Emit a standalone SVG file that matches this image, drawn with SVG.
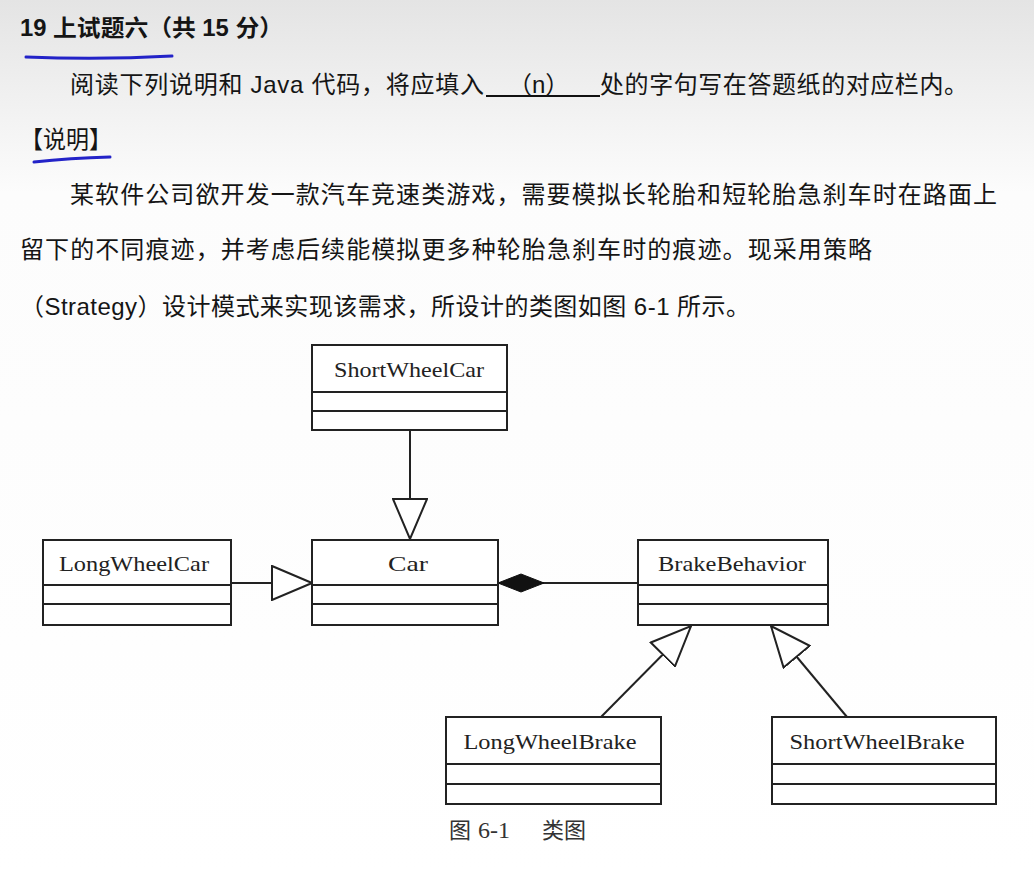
<svg xmlns="http://www.w3.org/2000/svg" width="1034" height="874" viewBox="0 0 1034 874">
  <defs>
    <linearGradient id="bg" x1="0" y1="0" x2="0" y2="1">
      <stop offset="0" stop-color="#e4e4e4"/>
      <stop offset="0.1" stop-color="#efefef"/>
      <stop offset="0.22" stop-color="#fcfcfc"/>
      <stop offset="1" stop-color="#ffffff"/>
    </linearGradient>
    <marker id="tri" viewBox="0 0 42 36" refX="41" refY="18" markerWidth="42" markerHeight="36" markerUnits="userSpaceOnUse" orient="auto">
      <path d="M1,1 L41,18 L1,35 Z" fill="#fff" stroke="#222" stroke-width="2" stroke-linejoin="miter"/>
    </marker>
    <marker id="dia" viewBox="0 0 48 20" refX="1" refY="10" markerWidth="48" markerHeight="20" markerUnits="userSpaceOnUse" orient="auto">
      <path d="M1,10 L24,1 L47,10 L24,19 Z" fill="#111" stroke="#111" stroke-width="1"/>
    </marker>
  </defs>
  <style>
    .cn { font-family: "Liberation Sans", "Noto Sans CJK SC", sans-serif; font-size: 24px; fill: #151515; }
    .title { font-weight: bold; font-size: 23px; }
    .box { fill: #fff; stroke: #222; stroke-width: 2; }
    .div { stroke: #222; stroke-width: 2; }
    .lbl { font-family: "Liberation Serif", "Noto Sans CJK SC", serif; font-size: 22px; fill: #222; text-anchor: middle; }
    .cap { font-family: "Liberation Serif", "Noto Sans CJK SC", serif; font-size: 22px; fill: #333; }
    .conn { stroke: #222; stroke-width: 2; fill: none; }
    .pen { stroke: #2323c8; stroke-width: 3; fill: none; stroke-linecap: round; }
  </style>
  <rect x="0" y="0" width="1034" height="874" fill="url(#bg)"/>

  <g id="text">
    <text class="cn title" x="20" y="36" textLength="263" lengthAdjust="spacingAndGlyphs">19 上试题六（共 15 分）</text>
    <path class="pen" d="M26,57 Q100,60 172,56"/>
    <text class="cn" x="70" y="93" textLength="414" lengthAdjust="spacing">阅读下列说明和 Java 代码，将应填入</text>
    <line x1="486" y1="96" x2="600" y2="96" stroke="#111" stroke-width="2"/>
    <text class="cn" x="508" y="93">（n）</text>
    <text class="cn" x="600" y="93" textLength="368" lengthAdjust="spacing">处的字句写在答题纸的对应栏内。</text>
    <text class="cn" x="20" y="148" textLength="92" lengthAdjust="spacingAndGlyphs">【说明】</text>
    <path class="pen" d="M34,162 Q70,158 110,157"/>
    <text class="cn" x="70" y="203" textLength="927" lengthAdjust="spacing">某软件公司欲开发一款汽车竞速类游戏，需要模拟长轮胎和短轮胎急刹车时在路面上</text>
    <text class="cn" x="20" y="258" textLength="852" lengthAdjust="spacing">留下的不同痕迹，并考虑后续能模拟更多种轮胎急刹车时的痕迹。现采用策略</text>
    <text class="cn" x="20" y="315" textLength="730" lengthAdjust="spacing">（Strategy）设计模式来实现该需求，所设计的类图如图 6-1 所示。</text>
  </g>

  <g id="connectors">
    <line class="conn" x1="410" y1="429" x2="410" y2="539" marker-end="url(#tri)"/>
    <line class="conn" x1="231" y1="583" x2="312" y2="583" marker-end="url(#tri)"/>
    <line class="conn" x1="498" y1="583" x2="638" y2="583" marker-start="url(#dia)"/>
    <line class="conn" x1="601" y1="717" x2="691" y2="626" marker-end="url(#tri)"/>
    <line class="conn" x1="847" y1="717" x2="771" y2="626" marker-end="url(#tri)"/>
  </g>

  <g id="ShortWheelCar">
    <rect class="box" x="312" y="345" width="195" height="85"/>
    <line class="div" x1="312" y1="392" x2="507" y2="392"/>
    <line class="div" x1="312" y1="411" x2="507" y2="411"/>
    <text class="lbl" x="409" y="377" textLength="150" lengthAdjust="spacingAndGlyphs">ShortWheelCar</text>
  </g>

  <g id="LongWheelCar">
    <rect class="box" x="43" y="540" width="188" height="85"/>
    <line class="div" x1="43" y1="585" x2="231" y2="585"/>
    <line class="div" x1="43" y1="604" x2="231" y2="604"/>
    <text class="lbl" x="134" y="571" textLength="150" lengthAdjust="spacingAndGlyphs">LongWheelCar</text>
  </g>

  <g id="Car">
    <rect class="box" x="312" y="540" width="186" height="85"/>
    <line class="div" x1="312" y1="585" x2="498" y2="585"/>
    <line class="div" x1="312" y1="604" x2="498" y2="604"/>
    <text class="lbl" x="408" y="571" textLength="40" lengthAdjust="spacingAndGlyphs">Car</text>
  </g>

  <g id="BrakeBehavior">
    <rect class="box" x="638" y="540" width="190" height="85"/>
    <line class="div" x1="638" y1="585" x2="828" y2="585"/>
    <line class="div" x1="638" y1="604" x2="828" y2="604"/>
    <text class="lbl" x="732" y="571" textLength="148" lengthAdjust="spacingAndGlyphs">BrakeBehavior</text>
  </g>

  <g id="LongWheelBrake">
    <rect class="box" x="446" y="717" width="215" height="87"/>
    <line class="div" x1="446" y1="764" x2="661" y2="764"/>
    <line class="div" x1="446" y1="784" x2="661" y2="784"/>
    <text class="lbl" x="550" y="749" textLength="173" lengthAdjust="spacingAndGlyphs">LongWheelBrake</text>
  </g>

  <g id="ShortWheelBrake">
    <rect class="box" x="772" y="717" width="224" height="87"/>
    <line class="div" x1="772" y1="764" x2="996" y2="764"/>
    <line class="div" x1="772" y1="784" x2="996" y2="784"/>
    <text class="lbl" x="877" y="749" textLength="175" lengthAdjust="spacingAndGlyphs">ShortWheelBrake</text>
  </g>

  <g id="caption">
    <text class="cap" y="838"><tspan x="449">图</tspan><tspan x="478" font-size="24">6-1</tspan><tspan x="542">类图</tspan></text>
  </g>
</svg>
